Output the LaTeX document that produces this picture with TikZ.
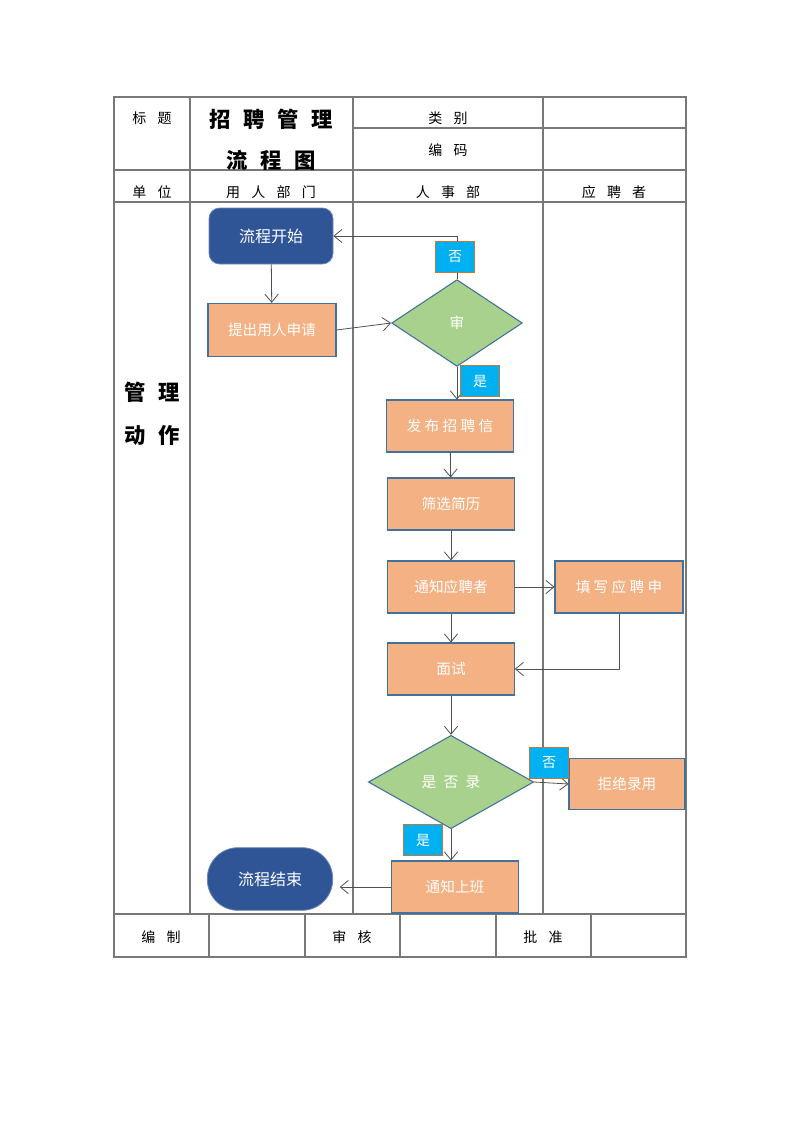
\documentclass[tikz,border=0pt]{standalone}
\usepackage{fontspec}
\setmainfont{Noto Sans CJK SC}
\usetikzlibrary{arrows.meta, shapes.geometric}
\definecolor{tline}{RGB}{120,120,120}
\definecolor{aline}{RGB}{80,80,80}
\definecolor{taskfill}{RGB}{244,177,131}
\definecolor{taskedge}{RGB}{65,113,156}
\definecolor{checkfill}{RGB}{169,209,142}
\definecolor{termfill}{RGB}{47,85,151}
\definecolor{tagfill}{RGB}{0,176,240}
\definecolor{tagedge}{RGB}{190,120,60}
\newcommand{\kgap}{\hspace{0.8em}}
\newcommand{\hgap}{\hspace{0.6em}}

\begin{document}
\begin{tikzpicture}[x=0.75pt, y=-0.75pt,
    grid/.style={draw=tline, line width=0.8pt},
    flow/.style={draw=aline, line width=0.6pt, -{Straight Barb[length=6pt, width=10pt]}},
    task/.style={rectangle, fill=taskfill, draw=taskedge, line width=0.8pt, minimum width=95pt, minimum height=39pt, text=white, font=\fontsize{11}{13}\selectfont},
    check/.style={diamond, fill=checkfill, draw=taskedge, line width=0.8pt, inner sep=0pt, text=white, font=\fontsize{11}{13}\selectfont},
    term/.style={rectangle, rounded corners=8pt, fill=termfill, draw=termfill!70!white, line width=0.6pt, text=white, font=\fontsize{12}{14}\selectfont},
    tag/.style={rectangle, fill=tagfill, draw=tagedge, line width=0.9pt, minimum width=29pt, minimum height=23pt, text=white, font=\fontsize{10.5}{12}\selectfont},
    cell/.style={font=\fontsize{10.5}{12}\selectfont},
    heading/.style={font=\bfseries\fontsize{16}{18}\selectfont}]
    \useasboundingbox (0,0) rectangle (800,1131);

    % table
    \draw [grid] (114,97) rectangle (686,957);
    \draw [grid] (353,128) -- (686,128);
    \draw [grid] (114,170) -- (686,170);
    \draw [grid] (114,202) -- (686,202);
    \draw [grid] (114,914) -- (686,914);
    \foreach \x in {190,353,543}
        \draw [grid] (\x,97) -- (\x,914);
    \foreach \x in {209,305,400,496,591}
        \draw [grid] (\x,914) -- (\x,957);

    \node (ltitle) [cell] at (152,118) {标\kgap 题};
    \node (title1) [heading] at (271,119) {招\hgap 聘\hgap 管\hgap 理};
    \node (title2) [heading] at (271,160) {流\hgap 程\hgap 图};
    \node (lkind) [cell] at (448,118) {类\kgap 别};
    \node (lcode) [cell] at (448,150) {编\kgap 码};
    \node (lunit) [cell] at (152,192) {单\kgap 位};
    \node (lane1) [cell] at (271,192) {用\kgap 人\kgap 部\kgap 门};
    \node (lane2) [cell] at (448,192) {人\kgap 事\kgap 部};
    \node (lane3) [cell] at (614,192) {应\kgap 聘\kgap 者};
    \node (act1) [heading] at (152,392) {管\hgap 理};
    \node (act2) [heading] at (152,435) {动\hgap 作};
    \node (lmake) [cell] at (161,937) {编\kgap 制};
    \node (lcheck) [cell] at (352,937) {审\kgap 核};
    \node (lsign) [cell] at (543,937) {批\kgap 准};

    % flow
    \node (start) [term, minimum width=93pt, minimum height=42pt] at (271,236) {流程开始};
    \node (apply) [task, minimum width=96pt, minimum height=40pt] at (272,330) {提出用人申请};
    \node (audit) [check, minimum width=98pt, minimum height=65pt] at (457,323) {审};
    \node (publish) [task] at (450,426) {发 布 招 聘 信};
    \node (screen) [task] at (451,504) {筛选简历};
    \node (notify) [task] at (451,587) {通知应聘者};
    \node (fillin) [task, minimum width=96pt] at (619,587) {填 写 应 聘 申};
    \node (interview) [task] at (451,669) {面试};
    \node (decide) [check, minimum width=124pt, minimum height=70pt] at (451,782) {是\hspace{0.5em}否\hspace{0.5em}录};
    \node (reject) [task, minimum width=87pt, minimum height=38pt] at (627,784) {拒绝录用};
    \node (onboard) [task] at (455,887) {通知上班};
    \node (finish) [term, rounded corners=23pt, minimum width=94pt, minimum height=47pt] at (270,879) {流程结束};

    \draw [flow] (audit.north) |- (start.east);
    \node (noa) [tag] at (455,257) {否};
    \draw [flow] (start) -- (apply);
    \draw [flow] (apply.east) -- (audit.west);
    \draw [flow] (audit.south) -- (audit.south |- publish.north);
    \node (yesa) [tag] at (480,381) {是};
    \draw [flow] (publish) -- (screen);
    \draw [flow] (screen) -- (notify);
    \draw [flow] (notify) -- (fillin);
    \draw [flow] (notify) -- (interview);
    \draw [flow] (fillin.south) |- (interview.east);
    \draw [flow] (interview) -- (decide);
    \draw [flow] (decide.east) -- (reject.west);
    \node (nod) [tag] at (549,763) {否};
    \draw [flow] (decide.south) -- (decide.south |- onboard.north);
    \node (yesd) [tag] at (423,840) {是};
    \draw [flow, shorten >=5pt] (onboard.west) -- (finish.east |- onboard.west);
\end{tikzpicture}
\end{document}
